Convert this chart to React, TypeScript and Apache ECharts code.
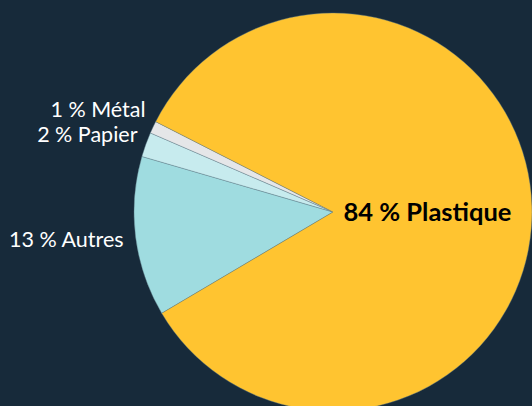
import React, { useEffect, useRef } from "react";
import * as echarts from "echarts";

const categories = ["Autres", "Papier", "Métal", "Plastique"];
const values = [13, 2, 1, 84];
const colors = ["#9FDCE0", "#C7EBEE", "#E5E6E8", "#FFC430"];
// fine label nudges (dx, dy) per slice, in pixels
const labelNudges: [number, number][] = [[0, 1], [8, -15], [9, -16], [-8, 2]];

export default function App() {
  const ref = useRef<HTMLDivElement>(null);
  useEffect(() => {
    document.body.style.margin = "0";
    const chart = echarts.init(ref.current!, null, { renderer: "svg" });
    const data = categories.map((name, i) => {
      const item: any = { name, value: values[i], itemStyle: { color: colors[i] } };
      if (name === "Plastique") {
        item.label = {
          position: "inside",
          color: "#000",
          fontWeight: "bold",
          fontSize: 25.5,
        };
      }
      return item;
    });
    chart.setOption({
      animation: false,
      backgroundColor: "#172A3A",
      series: [
        {
          type: "pie",
          center: [333, 212],
          radius: 199,
          startAngle: 210.6,
          clockwise: true,
          avoidLabelOverlap: true,
          itemStyle: { borderColor: "#5f7f8a", borderWidth: 0.4 },
          label: {
            show: true,
            position: "outside",
            formatter: "{c} % {b}",
            color: "#FFFFFF",
            fontSize: 21.5,
            fontFamily: "Lato",
            overflow: "none",
            edgeDistance: 0,
          },
          labelLine: { show: false, length: 6, length2: 6 },
          labelLayout: (params: any) => {
            const n = labelNudges[params.dataIndex] || [0, 0];
            return { dx: n[0], dy: n[1] };
          },
          emphasis: { disabled: true },
          data,
        },
      ],
    });
    return () => chart.dispose();
  }, []);
  return <div ref={ref} style={{ width: 532, height: 406 }} />;
}
